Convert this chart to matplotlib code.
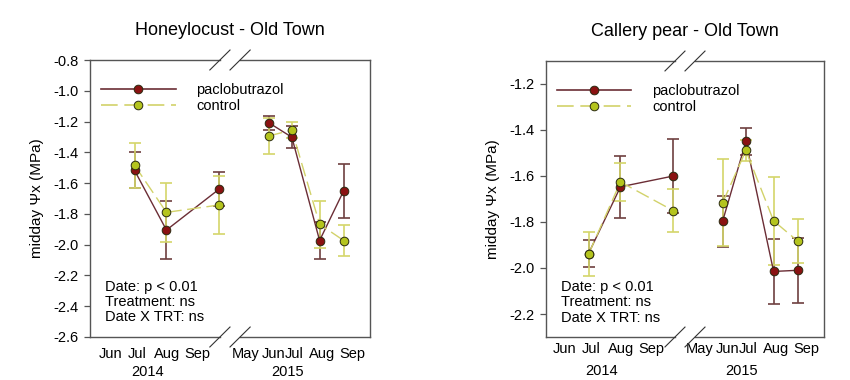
import matplotlib
matplotlib.use("Agg")
import matplotlib.pyplot as plt
import matplotlib.transforms as mtransforms
from matplotlib.lines import Line2D
import numpy as np

plt.rcParams["font.family"] = ["Liberation Sans", "DejaVu Sans"]

# sampling dates as decimal month of each year
DATES_2014 = [6.84, 7.98, 9.87]
DATES_2015 = [5.77, 6.60, 7.59, 8.45]
SHIFT_2015 = 5.86  # 2015 months are moved left across the axis break

MONTHS_2014 = ["Jun", "Jul", "Aug", "Sep"]
MONTH_POS_2014 = [6.0, 6.95, 8.0, 9.07]
MONTHS_2015 = ["May", "Jun", "Jul", "Aug", "Sep"]
MONTH_POS_2015 = [4.95, 5.93, 6.68, 7.68, 8.75]

# Honeylocust - Old Town
HL_PAC_2014 = [-1.517, -1.905, -1.638]
HL_PAC_2014_SE = [0.117, 0.189, 0.112]
HL_CON_2014 = [-1.484, -1.790, -1.742]
HL_CON_2014_SE = [0.147, 0.190, 0.188]
HL_PAC_2015 = [-1.207, -1.302, -1.973, -1.650]
HL_PAC_2015_SE = [0.045, 0.070, 0.120, 0.175]
HL_CON_2015 = [-1.294, -1.255, -1.867, -1.973]
HL_CON_2015_SE = [0.116, 0.055, 0.154, 0.102]

# Callery pear - Old Town
CP_PAC_2014 = [-1.937, -1.647, -1.600]
CP_PAC_2014_SE = [0.057, 0.135, 0.160]
CP_CON_2014 = [-1.940, -1.626, -1.751]
CP_CON_2014_SE = [0.095, 0.083, 0.093]
CP_PAC_2015 = [-1.796, -1.450, -2.015, -2.010]
CP_PAC_2015_SE = [0.111, 0.058, 0.140, 0.142]
CP_CON_2015 = [-1.716, -1.489, -1.795, -1.883]
CP_CON_2015_SE = [0.190, 0.045, 0.190, 0.094]

STATS_TEXT = "Date: p < 0.01\nTreatment: ns\nDate X TRT: ns"

PAC_FILL = "#8a1212"
PAC_LINE = "#6b2d35"
PAC_ERR = "#6e4040"
CON_FILL = "#b4c41e"
CON_LINE = "#d2d26a"
CON_ERR = "#d4d66a"
FRAME = "#555555"


def draw_frame(ax):
    for s in ax.spines.values():
        s.set_visible(False)
    g = 0.036
    kw = dict(transform=ax.transAxes, color=FRAME, lw=1.0, clip_on=False, zorder=6)
    ax.plot([0, 0], [0, 1], **kw)
    ax.plot([1, 1], [0, 1], **kw)
    for y in (0, 1):
        ax.plot([0, 0.5 - g], [y, y], **kw)
        ax.plot([0.5 + g, 1], [y, y], **kw)
        for c in (0.5 - g, 0.5 + g):
            ax.plot([c - 0.036, c + 0.036], [y - 0.036, y + 0.036],
                    transform=ax.transAxes, color="#333333", lw=0.8,
                    clip_on=False, zorder=6)


def draw_series(ax, x, y, se, fill, line, err, dashed):
    ax.errorbar(x, y, yerr=se, fmt="none", ecolor=err, elinewidth=1.2,
                capsize=4.2, capthick=1.2, zorder=3)
    ls = (0, (10, 4)) if dashed else "-"
    ax.plot(x, y, color=line, lw=1.0, linestyle=ls, zorder=4)
    ax.plot(x, y, linestyle="none", marker="o", markersize=6.2,
            markerfacecolor=fill, markeredgecolor="#2a2a10",
            markeredgewidth=0.7, zorder=5)


def panel(ax, title, ylim, yticks, data, xlim, month_y, year_y):
    pac14, pac14_se, con14, con14_se, pac15, pac15_se, con15, con15_se = data
    x14 = np.array(DATES_2014)
    x15 = np.array(DATES_2015) + SHIFT_2015

    draw_series(ax, x14, pac14, pac14_se, PAC_FILL, PAC_LINE, PAC_ERR, False)
    draw_series(ax, x15, pac15, pac15_se, PAC_FILL, PAC_LINE, PAC_ERR, False)
    draw_series(ax, x14, con14, con14_se, CON_FILL, CON_LINE, CON_ERR, True)
    draw_series(ax, x15, con15, con15_se, CON_FILL, CON_LINE, CON_ERR, True)

    ax.set_xlim(*xlim)
    ax.set_ylim(*ylim)
    ax.set_yticks(yticks)
    ax.set_yticklabels([f"{t:.1f}" for t in yticks])
    ax.tick_params(axis="y", direction="out", length=4, width=0.9,
                   color=FRAME, labelsize=10.5, pad=4)
    ax.set_xticks([])
    draw_frame(ax)

    trans = mtransforms.blended_transform_factory(ax.transData, ax.transAxes)
    for m, p in zip(MONTHS_2014, MONTH_POS_2014):
        ax.text(p, month_y, m, transform=trans, ha="center", va="center", fontsize=10.5)
    for m, p in zip(MONTHS_2015, MONTH_POS_2015):
        ax.text(p + SHIFT_2015, month_y, m, transform=trans, ha="center",
                va="center", fontsize=10.5)
    ax.text(7.3, year_y, "2014", transform=trans, ha="center", va="center", fontsize=10.5)
    ax.text(12.3, year_y, "2015", transform=trans, ha="center", va="center", fontsize=10.5)

    ax.set_title(title, fontsize=13, pad=18)
    ax.set_ylabel("midday \u03a8x (MPa)", fontsize=11)
    ax.yaxis.set_label_coords(-0.165, 0.5)

    ax.text(0.054, 0.207, STATS_TEXT, transform=ax.transAxes, ha="left",
            va="top", fontsize=10.5, linespacing=1.12)

    handles = [
        Line2D([], [], color=PAC_LINE, lw=1.2, marker="o", markersize=6.2,
               markerfacecolor=PAC_FILL, markeredgecolor="#2a2a10", markeredgewidth=0.7),
        Line2D([], [], color=CON_LINE, lw=1.2, linestyle=(0, (10, 4)), marker="o",
               markersize=6.2, markerfacecolor=CON_FILL, markeredgecolor="#2a2a10",
               markeredgewidth=0.7),
    ]
    ax.legend(handles, ["paclobutrazol", "control"], loc="upper left",
              bbox_to_anchor=(0.04, 0.918), frameon=False, fontsize=10.5,
              handlelength=5.1, handletextpad=1.4, labelspacing=0.18,
              borderpad=0, borderaxespad=0)


fig = plt.figure(figsize=(8.5, 3.8), dpi=100)
ax1 = fig.add_axes([90 / 850, 43 / 380, 280 / 850, 277 / 380])
ax2 = fig.add_axes([546 / 850, 43 / 380, 278 / 850, 276 / 380])

panel(ax1, "Honeylocust - Old Town", (-2.6, -0.8), np.arange(-2.6, -0.79, 0.2),
      (HL_PAC_2014, HL_PAC_2014_SE, HL_CON_2014, HL_CON_2014_SE,
       HL_PAC_2015, HL_PAC_2015_SE, HL_CON_2015, HL_CON_2015_SE),
      (5.25, 15.25), -0.061, -0.126)
panel(ax2, "Callery pear - Old Town", (-2.3, -1.1), np.arange(-2.2, -1.19, 0.2),
      (CP_PAC_2014, CP_PAC_2014_SE, CP_CON_2014, CP_CON_2014_SE,
       CP_PAC_2015, CP_PAC_2015_SE, CP_CON_2015, CP_CON_2015_SE),
      (5.32, 15.25), -0.043, -0.123)

fig.savefig("out.png", dpi=100)
